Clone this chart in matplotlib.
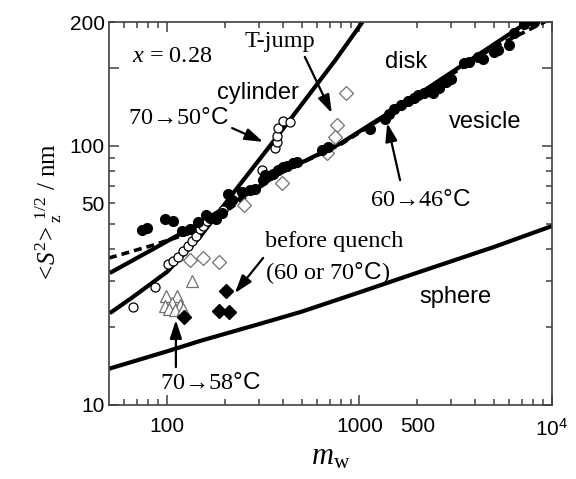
import numpy as np
from matplotlib import pyplot as plt

plt.rcParams['mathtext.fontset'] = 'custom'
plt.rcParams['mathtext.rm'] = 'Liberation Serif'
plt.rcParams['mathtext.it'] = 'Liberation Serif:italic'
plt.rcParams['mathtext.sf'] = 'Liberation Sans'

SERIF = ['Liberation Serif', 'DejaVu Serif']
SANS = ['Liberation Sans', 'DejaVu Sans']
SPINE = '#404040'
GRAY = '#707070'

# model curves (m_w, <S^2>_z^1/2 in nm)
sphere_mw = [50, 100, 150, 300, 500, 1000, 2000, 5000, 10000]
sphere_s = [13.8, 16.1, 17.7, 20.5, 22.9, 27.2, 32.4, 40.7, 49.0]

cylinder_mw = [50.5, 66.6, 100, 148.5, 213, 324, 493, 750, 1037]
cylinder_s = [22.6, 26.1, 32.6, 44.5, 63.4, 94.6, 142, 214, 300]

disk_mw = [50.5, 81.5, 148.5, 270, 388, 796, 2078, 7330, 8000]
disk_s = [32.3, 39.3, 50.4, 66.2, 78.5, 102, 160, 297, 310]

vesicle_mw = [50, 81.5, 132, 200, 388, 796, 2078, 5000, 10000]
vesicle_s = [36.9, 41.0, 46.0, 55.5, 78.5, 101, 158, 240, 310]

# 60 -> 46 C (filled circles)
q46_mw = [74.2, 78.7, 97.6, 107.5, 119.7, 131.8, 144.9, 159.6, 167.5, 180, 193,
          208, 218, 246, 270, 287, 316, 324, 356, 378, 402, 422, 453, 475, 641, 690,
          1140, 1365, 1416, 1503, 1635, 1778, 1910, 2004, 2154, 2399, 2578, 2803,
          2977, 3480, 3700, 4121, 4375, 4990, 5236, 5970, 6340, 7140, 8050]
q46_s = [47.3, 48.2, 52.2, 51.2, 46.9, 47.7, 50.8, 54.0, 52.6, 52.2, 55.0,
         65.2, 61.8, 66.3, 67.5, 68.1, 73.8, 77.1, 77.8, 80.6, 82.8, 83.6, 85.8, 86.5, 96.2, 98.9,
         116, 127, 132.5, 138.5, 143.5, 148.7, 152.7, 157, 159.8, 159.8, 167, 176,
         180.8, 208, 210, 220, 216, 230, 234, 244, 272, 294, 300]

# 70 -> 50 C (open circles)
q50_mw = [66.6, 86.6, 101, 107.5, 114, 121, 128.6, 135, 141.6, 148.5, 154, 161.6,
          195.7, 312, 365, 374, 374, 378, 402, 437]
q50_s = [23.9, 28.5, 35.0, 35.9, 37.2, 39.3, 41.1, 42.9, 44.9, 47.7, 49.0, 51.2,
         56.5, 80.6, 98.0, 103.3, 108.9, 117, 124.5, 123.3]

# T-jump (open diamonds)
tjump_mw = [131.8, 154, 186.6, 252, 397, 681, 767, 750, 855]
tjump_s = [36.3, 36.9, 35.6, 59.0, 71.8, 93.8, 120, 108, 159.7]

# 70 -> 58 C (open triangles)
q58_mw = [135, 98.8, 112.7, 97.6, 106.2, 117, 102.4, 110, 121.2]
q58_s = [30.1, 26.3, 26.3, 24.1, 24.7, 24.3, 23.4, 23.2, 23.4]

# before quench (filled diamonds)
before_mw = [203, 186.6, 210, 122.6]
before_s = [27.5, 23.0, 22.8, 21.8]

fig = plt.figure(figsize=(5.76, 4.79), dpi=100)
ax = fig.add_axes([109 / 576, 1 - 405 / 479, 443 / 576, 383 / 479])
ax.set_xscale('log')
ax.set_yscale('log')

ax.plot(sphere_mw, sphere_s, color='black', lw=3, solid_capstyle='butt')
ax.plot(cylinder_mw, cylinder_s, color='black', lw=3, solid_capstyle='butt')
ax.plot(disk_mw, disk_s, color='black', lw=3, solid_capstyle='butt')
ax.plot(vesicle_mw, vesicle_s, color='black', lw=2.6, dashes=(2.2, 1.4))

ax.plot(tjump_mw, tjump_s, 'D', ms=7, mfc='white', mec=GRAY, mew=0.9, ls='none', zorder=3)
ax.plot(q58_mw, q58_s, '^', ms=8, mfc='white', mec=GRAY, mew=0.9, ls='none', zorder=3)
ax.plot(q50_mw, q50_s, 'o', ms=6.5, mfc='white', mec='black', mew=0.9, ls='none', zorder=4)
ax.plot(q46_mw, q46_s, 'o', ms=7, color='black', ls='none', zorder=4)
ax.plot(before_mw, before_s, 'D', ms=7, color='black', ls='none', zorder=4)

ax.set_xlim(50, 10000)
ax.set_ylim(10, 300)

# ticks (labels copied as they stand in the original)
ax.set_xticks([100, 1000, 10000], ['100', '1000', r'$\mathsf{10^{4}}$'])
minor_x = [60, 70, 80, 90, 200, 300, 400, 500, 600, 700, 800, 900,
           2000, 3000, 4000, 5000, 6000, 7000, 8000, 9000]
ax.set_xticks(minor_x, ['500' if v == 2000 else '' for v in minor_x], minor=True)
ax.set_yticks([10, 100, 200], ['10', '100', ''])
minor_y = [20, 30, 40, 50, 60, 70, 80, 90, 300]
ax.set_yticks(minor_y, ['50' if v == 60 else ('200' if v == 300 else '') for v in minor_y],
              minor=True)

ax.tick_params(which='both', direction='in', top=True, right=True, color=SPINE,
               labelsize=15)
ax.tick_params(which='major', length=7, width=1.1)
ax.tick_params(which='minor', length=4, width=1.1)
ax.tick_params(axis='x', which='both', pad=9)
ax.tick_params(axis='y', which='both', pad=3)
for lab in ax.get_xticklabels(which='both') + ax.get_yticklabels(which='both'):
    lab.set_family(SANS)
for sp in ax.spines.values():
    sp.set_color(SPINE)
    sp.set_linewidth(1.2)

ax.set_xlabel(r'$m_{\mathrm{w}}$', fontsize=22, labelpad=2)
ax.set_ylabel(r'$<\!S^{2}\!>_{\mathrm{z}}^{\;1/2}$ / nm', fontsize=18, family=SERIF,
              labelpad=4)

# labels
ax.text(0.142, 0.909, r'$x$ = 0.28', transform=ax.transAxes, fontsize=17.5,
        family=SERIF, ha='center', va='center')
ax.text(0.307, 0.948, 'T-jump', transform=ax.transAxes, fontsize=17.5,
        family=SERIF, ha='left', va='center')
ax.text(0.337, 0.815, 'cylinder', transform=ax.transAxes, fontsize=17,
        family=SANS, ha='center', va='center')
ax.text(0.670, 0.896, 'disk', transform=ax.transAxes, fontsize=17,
        family=SANS, ha='center', va='center')
ax.text(0.849, 0.739, 'vesicle', transform=ax.transAxes, fontsize=17,
        family=SANS, ha='center', va='center')
ax.text(0.781, 0.282, 'sphere', transform=ax.transAxes, fontsize=17,
        family=SANS, ha='center', va='center')
ax.text(0.156, 0.749, '70\u219250$\\mathsf{°C}$', transform=ax.transAxes, fontsize=17.5,
        family=SERIF, ha='center', va='center')
ax.text(0.704, 0.535, '60\u219246$\\mathsf{°C}$', transform=ax.transAxes, fontsize=17.5,
        family=SERIF, ha='center', va='center')
ax.text(0.228, 0.057, '70\u219258$\\mathsf{°C}$', transform=ax.transAxes, fontsize=17.5,
        family=SERIF, ha='center', va='center')
ax.text(0.352, 0.426, 'before quench', transform=ax.transAxes, fontsize=17.5,
        family=SERIF, ha='left', va='center')
ax.text(0.352, 0.345, '(60 or 70$\\mathsf{°C}$)', transform=ax.transAxes, fontsize=17.5,
        family=SERIF, ha='left', va='center')

ARROWS = [
    ((0.278, 0.723), (0.348, 0.687)),
    ((0.442, 0.909), (0.503, 0.762)),
    ((0.657, 0.587), (0.628, 0.736)),
    ((0.348, 0.384), (0.284, 0.292)),
    ((0.151, 0.099), (0.151, 0.222)),
]
for tail, head in ARROWS:
    ax.annotate('', xy=head, xytext=tail, xycoords='axes fraction',
                textcoords='axes fraction',
                arrowprops=dict(arrowstyle='-|>,head_length=0.55,head_width=0.18',
                                color='black', lw=1.6, shrinkA=0, shrinkB=0,
                                mutation_scale=20))

fig.savefig('out.png', dpi=100)
